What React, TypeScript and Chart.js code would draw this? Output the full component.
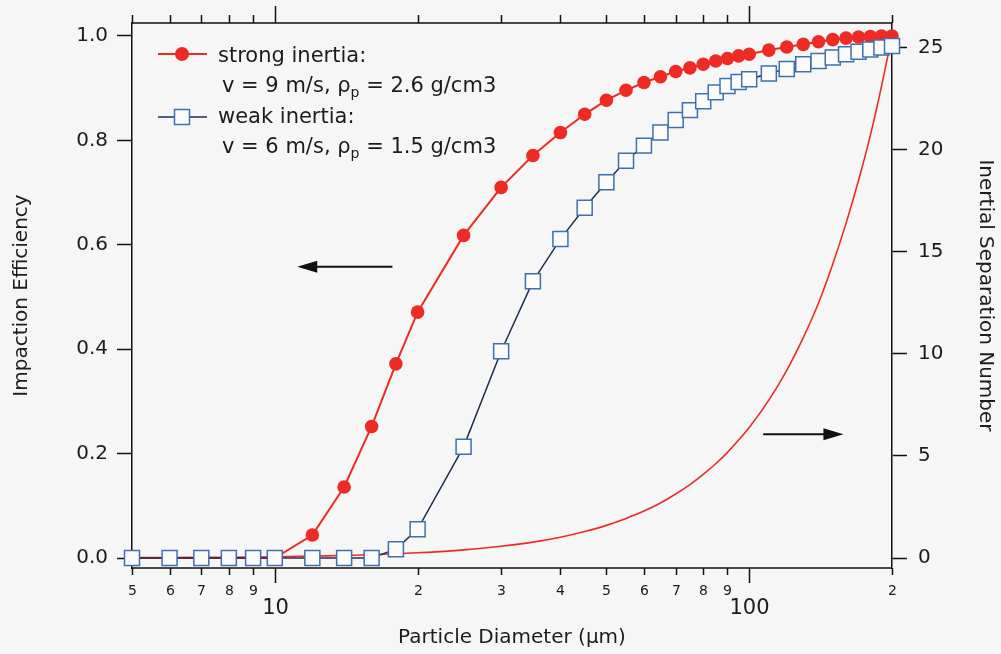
import React, { useEffect, useRef } from 'react';
import { Chart, registerables } from 'chart.js';

Chart.register(...registerables);

// ---------- data ----------
const diameters = [5, 6, 7, 8, 9, 10, 12, 14, 16, 18, 20, 25, 30, 35, 40, 45, 50, 55, 60, 65, 70, 75, 80, 85, 90, 95, 100, 110, 120, 130, 140, 150, 160, 170, 180, 190, 200];
const strongEfficiency = [0, 0, 0, 0, 0, 0, 0.044, 0.136, 0.252, 0.372, 0.471, 0.618, 0.71, 0.771, 0.815, 0.85, 0.877, 0.896, 0.911, 0.922, 0.932, 0.939, 0.946, 0.952, 0.957, 0.962, 0.965, 0.973, 0.979, 0.984, 0.989, 0.993, 0.996, 0.998, 0.999, 1.0, 1.0];
const weakEfficiency = [0, 0, 0, 0, 0, 0, 0, 0, 0, 0.017, 0.055, 0.213, 0.396, 0.53, 0.611, 0.671, 0.72, 0.761, 0.79, 0.815, 0.839, 0.858, 0.875, 0.892, 0.904, 0.912, 0.917, 0.928, 0.937, 0.946, 0.952, 0.959, 0.965, 0.97, 0.974, 0.978, 0.981];
const separationNumber = [0.016, 0.023, 0.031, 0.041, 0.052, 0.064, 0.092, 0.125, 0.164, 0.207, 0.256, 0.4, 0.58, 0.78, 1.02, 1.3, 1.6, 1.94, 2.3, 2.7, 3.14, 3.6, 4.1, 4.62, 5.18, 5.78, 6.4, 7.74, 9.2, 10.8, 12.5, 14.4, 16.4, 18.5, 20.7, 23.1, 25.6];

const xTickValues = [5, 6, 7, 8, 9, 10, 20, 30, 40, 50, 60, 70, 80, 90, 100, 200];
const xTickLabels = ['5', '6', '7', '8', '9', '10', '2', '3', '4', '5', '6', '7', '8', '9', '100', '2'];
const xMajorTicks = [10, 100];
const leftTicks = [0, 0.2, 0.4, 0.6, 0.8, 1.0];
const rightTicks = [0, 5, 10, 15, 20, 25];

// arrows (data units): [xTail, xHead, y, axis]
const leftArrow = [17.7, 11.15, 0.558];
const rightArrow = [107, 158, 6.07];

// ---------- styles ----------
const FONT = '"DejaVu Sans", "Liberation Sans", sans-serif';
const TEXT = '#1c1c1c';
const RED = '#ee2a24';
const NAVY = '#1f2e4e';
const SQ_BORDER = '#3f70ad';
const BG = '#f6f6f6';
const AXIS = '#111111';

function drawRich(ctx: CanvasRenderingContext2D, x: number, y: number, parts: { t: string; sub?: boolean }[]) {
  let cx = x;
  ctx.textAlign = 'left';
  ctx.textBaseline = 'alphabetic';
  for (const p of parts) {
    ctx.font = p.sub ? `14px ${FONT}` : `21px ${FONT}`;
    ctx.fillText(p.t, cx, p.sub ? y + 5 : y);
    cx += ctx.measureText(p.t).width;
  }
}

function drawArrow(ctx: CanvasRenderingContext2D, xTail: number, xHead: number, y: number) {
  const dir = xHead > xTail ? 1 : -1;
  const headLen = 20;
  const half = 6;
  ctx.strokeStyle = '#111';
  ctx.fillStyle = '#111';
  ctx.lineWidth = 2;
  ctx.beginPath();
  ctx.moveTo(xTail, y);
  ctx.lineTo(xHead - dir * headLen * 0.8, y);
  ctx.stroke();
  ctx.beginPath();
  ctx.moveTo(xHead, y);
  ctx.lineTo(xHead - dir * headLen, y - half);
  ctx.lineTo(xHead - dir * headLen, y + half);
  ctx.closePath();
  ctx.fill();
}

const decorPlugin = {
  id: 'decor',
  beforeDraw(chart: any) {
    const { ctx, width, height } = chart;
    ctx.save();
    ctx.fillStyle = BG;
    ctx.fillRect(0, 0, width, height);
    ctx.restore();
  },
  afterDraw(chart: any) {
    const { ctx, chartArea: a, scales } = chart;
    const xs = scales.x;
    const yl = scales.y;
    const yr = scales.y2;
    ctx.save();
    // frame top and bottom
    ctx.strokeStyle = AXIS;
    ctx.lineWidth = 1.5;
    ctx.beginPath();
    ctx.moveTo(a.left, a.top);
    ctx.lineTo(a.right, a.top);
    ctx.moveTo(a.left, a.bottom);
    ctx.lineTo(a.right, a.bottom);
    ctx.stroke();

    // x ticks, bottom and top
    xTickValues.forEach((v, i) => {
      const px = Math.round(xs.getPixelForValue(v)) + 0.5;
      const major = xMajorTicks.includes(v);
      ctx.strokeStyle = AXIS;
      ctx.lineWidth = 1.5;
      ctx.beginPath();
      ctx.moveTo(px, a.bottom);
      ctx.lineTo(px, a.bottom + (major ? 15 : 7));
      ctx.moveTo(px, a.top);
      ctx.lineTo(px, a.top - (major ? 17 : 8));
      ctx.stroke();
      ctx.fillStyle = TEXT;
      ctx.textAlign = 'center';
      ctx.textBaseline = 'middle';
      ctx.font = major ? `21px ${FONT}` : `14px ${FONT}`;
      ctx.fillText(xTickLabels[i], px, a.bottom + (major ? 41 : 23));
    });

    // x title
    ctx.fillStyle = TEXT;
    ctx.font = `20px ${FONT}`;
    ctx.textAlign = 'center';
    ctx.textBaseline = 'middle';
    ctx.fillText('Particle Diameter (\u03bcm)', (a.left + a.right) / 2, 638);

    // arrows
    drawArrow(ctx, xs.getPixelForValue(leftArrow[0]), xs.getPixelForValue(leftArrow[1]), yl.getPixelForValue(leftArrow[2]));
    drawArrow(ctx, xs.getPixelForValue(rightArrow[0]), xs.getPixelForValue(rightArrow[1]), yr.getPixelForValue(rightArrow[2]));

    // legend
    const lx1 = 158, lx2 = 207, lmx = 182;
    ctx.lineWidth = 2;
    ctx.strokeStyle = RED;
    ctx.beginPath();
    ctx.moveTo(lx1, 54);
    ctx.lineTo(lx2, 54);
    ctx.stroke();
    ctx.fillStyle = RED;
    ctx.beginPath();
    ctx.arc(lmx, 54, 7, 0, Math.PI * 2);
    ctx.fill();

    ctx.strokeStyle = NAVY;
    ctx.lineWidth = 1.5;
    ctx.beginPath();
    ctx.moveTo(lx1, 117);
    ctx.lineTo(lx2, 117);
    ctx.stroke();
    ctx.fillStyle = '#fbfbfb';
    ctx.fillRect(lmx - 7.5, 117 - 7.5, 15, 15);
    ctx.strokeStyle = SQ_BORDER;
    ctx.strokeRect(lmx - 7.5, 117 - 7.5, 15, 15);

    ctx.fillStyle = TEXT;
    drawRich(ctx, 218, 62, [{ t: 'strong inertia:' }]);
    drawRich(ctx, 222, 92, [{ t: 'v = 9 m/s, \u03c1' }, { t: 'p', sub: true }, { t: ' = 2.6 g/cm3' }]);
    drawRich(ctx, 218, 123, [{ t: 'weak inertia:' }]);
    drawRich(ctx, 222, 153, [{ t: 'v = 6 m/s, \u03c1' }, { t: 'p', sub: true }, { t: ' = 1.5 g/cm3' }]);
    ctx.restore();
  },
};

export default function App() {
  const canvasRef = useRef<HTMLCanvasElement | null>(null);

  useEffect(() => {
    const canvas = canvasRef.current;
    if (!canvas) return;
    const weakPts = diameters.map((d, i) => ({ x: d, y: weakEfficiency[i] }));
    const strongPts = diameters.map((d, i) => ({ x: d, y: strongEfficiency[i] }));
    const stkPts = diameters.map((d, i) => ({ x: d, y: separationNumber[i] }));

    const chart = new Chart(canvas, {
      type: 'line',
      data: {
        datasets: [
          {
            label: 'weak inertia',
            data: weakPts,
            yAxisID: 'y',
            borderColor: NAVY,
            borderWidth: 1.5,
            pointStyle: 'rect',
            pointRadius: 10.6,
            pointBackgroundColor: '#fbfbfb',
            pointBorderColor: SQ_BORDER,
            pointBorderWidth: 1.5,
            tension: 0,
            clip: false as any,
          },
          {
            label: 'strong inertia',
            data: strongPts,
            yAxisID: 'y',
            borderColor: RED,
            borderWidth: 2,
            pointStyle: 'circle',
            pointRadius: 6.8,
            pointBackgroundColor: RED,
            pointBorderColor: RED,
            pointBorderWidth: 0,
            tension: 0,
            clip: false as any,
          },
          {
            label: 'Inertial Separation Number',
            data: stkPts,
            yAxisID: 'y2',
            borderColor: RED,
            borderWidth: 1.6,
            pointRadius: 0,
            cubicInterpolationMode: 'monotone',
            clip: false as any,
          },
        ],
      },
      options: {
        animation: false,
        responsive: false,
        devicePixelRatio: 1,
        layout: { padding: { top: 22, bottom: 86, left: 0, right: 0 } },
        plugins: {
          legend: { display: false },
          tooltip: { enabled: false },
        },
        events: [],
        scales: {
          x: {
            type: 'logarithmic',
            min: 5,
            max: 200,
            display: false,
          },
          y: {
            type: 'linear',
            position: 'left',
            min: -0.0191,
            max: 1.0249,
            afterBuildTicks: (s: any) => {
              s.ticks = leftTicks.map((v) => ({ value: v }));
            },
            afterFit: (s: any) => {
              s.width = 132;
            },
            ticks: {
              font: { family: FONT, size: 20 },
              color: TEXT,
              padding: 9,
              callback: (v: any) => Number(v).toFixed(1),
            },
            grid: {
              drawOnChartArea: false,
              drawTicks: true,
              tickLength: 15,
              tickColor: AXIS,
              tickWidth: 1.5,
            },
            border: { display: true, color: AXIS, width: 1.5 },
            title: {
              display: true,
              text: 'Impaction Efficiency',
              font: { family: FONT, size: 20 },
              color: TEXT,
              padding: { top: 10, bottom: 0 },
            },
          },
          y2: {
            type: 'linear',
            position: 'right',
            min: -0.489,
            max: 26.22,
            afterBuildTicks: (s: any) => {
              s.ticks = rightTicks.map((v) => ({ value: v }));
            },
            afterFit: (s: any) => {
              s.width = 109;
            },
            ticks: {
              font: { family: FONT, size: 20 },
              color: TEXT,
              padding: 11,
              callback: (v: any) => String(v),
            },
            grid: {
              drawOnChartArea: false,
              drawTicks: true,
              tickLength: 15,
              tickColor: AXIS,
              tickWidth: 1.5,
            },
            border: { display: true, color: AXIS, width: 1.5 },
            title: {
              display: true,
              text: 'Inertial Separation Number',
              font: { family: FONT, size: 20 },
              color: TEXT,
              padding: { top: 4, bottom: 0 },
            },
          },
        },
      },
      plugins: [decorPlugin],
    } as any);

    return () => {
      chart.destroy();
    };
  }, []);

  return (
    <div style={{ position: 'fixed', left: 0, top: 0, width: 1001, height: 654, background: BG }}>
      <canvas ref={canvasRef} width={1001} height={654} style={{ display: 'block', width: 1001, height: 654 }} />
    </div>
  );
}
